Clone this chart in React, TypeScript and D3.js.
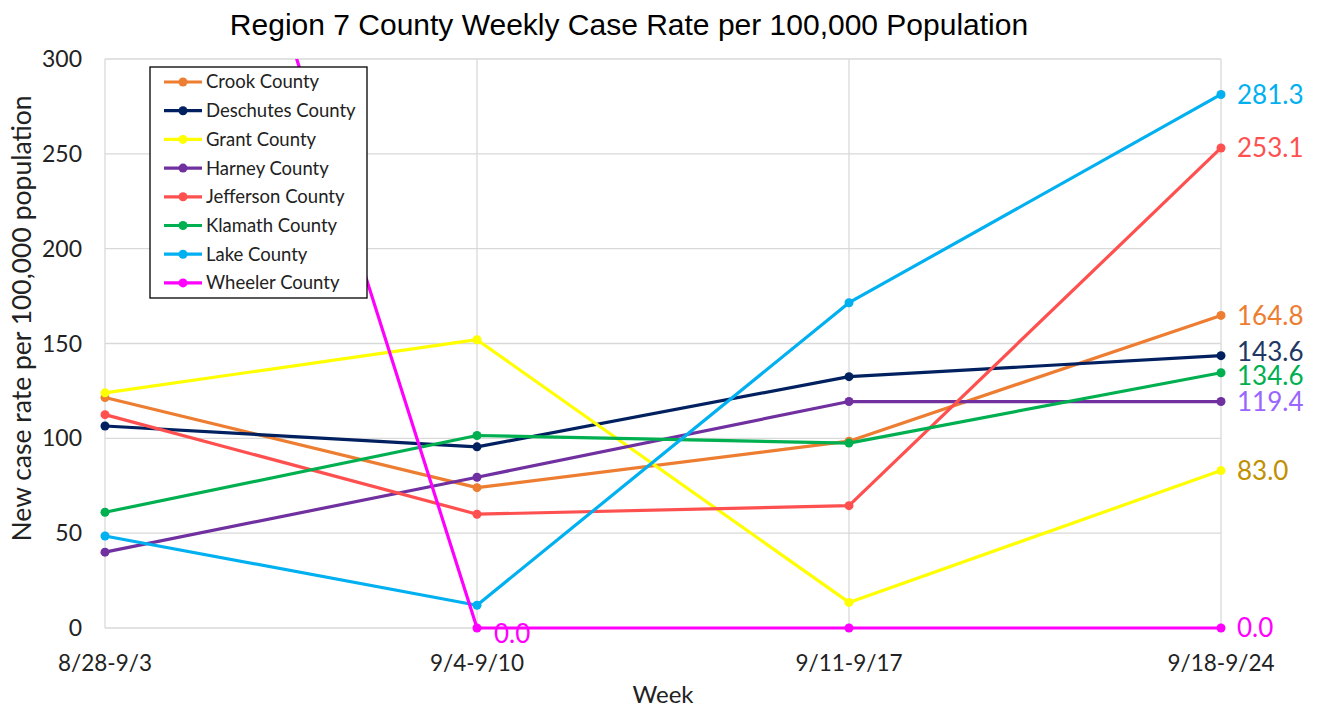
import React, { useEffect } from 'react';
import * as d3 from 'd3';

const weeks = ['8/28-9/3', '9/4-9/10', '9/11-9/17', '9/18-9/24'];
const yTicks = [0, 50, 100, 150, 200, 250, 300];

const crook = [121.5, 74, 98.5, 164.8];
const deschutes = [106.5, 95.5, 132.5, 143.6];
const grant = [124, 152, 13.5, 83.0];
const harney = [40, 79.5, 119.4, 119.4];
const jefferson = [112.5, 60, 64.5, 253.1];
const klamath = [61, 101.5, 97.5, 134.6];
const lake = [48.5, 12, 171.5, 281.3];
const wheeler = [619, 0, 0, 0];

const seriesNames = [
  'Crook County', 'Deschutes County', 'Grant County', 'Harney County',
  'Jefferson County', 'Klamath County', 'Lake County', 'Wheeler County',
];
const seriesValues = [crook, deschutes, grant, harney, jefferson, klamath, lake, wheeler];
const lineColors = ['#ED7D31', '#002060', '#FFFF00', '#7030A0', '#FF5050', '#00B050', '#00B0F0', '#FF00FF'];
const labelColors = ['#ED7D31', '#1F3864', '#BF9000', '#9966FF', '#FF5050', '#00B050', '#00B0F0', '#FF00FF'];

const W = 1318;
const H = 708;
const margin = { top: 59, right: 97, bottom: 80, left: 105 };
const font = 'Lato, "Noto Sans", sans-serif';

const App = () => {
  useEffect(() => {
    document.body.style.margin = '0';
  }, []);

  const x = d3.scalePoint<string>()
    .domain(weeks)
    .range([margin.left, W - margin.right]);
  const y = d3.scaleLinear()
    .domain([0, 300])
    .range([H - margin.bottom, margin.top]);

  const line = d3.line<number>()
    .x((_, i) => x(weeks[i]) as number)
    .y(d => y(d));

  const series = seriesNames.map((name, i) => ({
    name, values: seriesValues[i], color: lineColors[i], labelColor: labelColors[i],
  }));

  // end labels, pushed apart evenly when they collide
  const last = weeks.length - 1;
  const gap = 24;
  const endLabels = series
    .map(s => ({ text: s.values[last].toFixed(1), y: y(s.values[last]), color: s.labelColor }))
    .sort((a, b) => a.y - b.y);
  for (let k = 0; k < 30; k++) {
    for (let i = 1; i < endLabels.length; i++) {
      const d = endLabels[i].y - endLabels[i - 1].y;
      if (d < gap) {
        endLabels[i - 1].y -= (gap - d) / 2;
        endLabels[i].y += (gap - d) / 2;
      }
    }
  }

  const x0 = margin.left;
  const x1 = W - margin.right;
  const y0 = H - margin.bottom;
  const y1 = margin.top;

  return (
    <svg width={W} height={H} style={{ display: 'block', background: '#fff' }}>
      <defs>
        <clipPath id="plot">
          <rect x={x0 - 10} y={y1} width={x1 - x0 + 20} height={y0 - y1 + 10} />
        </clipPath>
      </defs>

      <text x={629} y={35} textAnchor="middle" fontFamily='"Liberation Sans", Arial, sans-serif' fontSize={30} fill="#000">
        Region 7 County Weekly Case Rate per 100,000 Population
      </text>

      {/* gridlines */}
      {yTicks.map(t => (
        <line key={t} x1={x0} x2={x1} y1={y(t)} y2={y(t)} stroke="#d9d9d9" strokeWidth={1.3} />
      ))}
      {weeks.map(w => (
        <line key={w} x1={x(w)} x2={x(w)} y1={y1} y2={y0} stroke="#d9d9d9" strokeWidth={1.3} />
      ))}

      {/* tick labels */}
      {yTicks.map(t => (
        <text key={t} x={82} y={y(t)} dy="0.35em" textAnchor="end" fontFamily={font} fontSize={23} fill="#222">
          {t}
        </text>
      ))}
      {weeks.map(w => (
        <text key={w} x={x(w)} y={663} dy="0.35em" textAnchor="middle" fontFamily={font} fontSize={22.5} fill="#222">
          {w}
        </text>
      ))}
      <text x={663} y={695} dy="0.35em" textAnchor="middle" fontFamily={font} fontSize={24} fill="#222">Week</text>
      <text transform={`translate(22, ${(y0 + y1) / 2 - 25}) rotate(-90)`} textAnchor="middle" dy="0.35em" fontFamily={font} fontSize={26.5} fill="#222">
        New case rate per 100,000 population
      </text>

      {/* lines */}
      <g clipPath="url(#plot)">
        {series.map(s => (
          <g key={s.name}>
            <path d={line(s.values) || ''} fill="none" stroke={s.color} strokeWidth={3.2} strokeLinejoin="round" />
            {s.values.map((v, i) => (
              v <= 300 ? <circle key={i} cx={x(weeks[i])} cy={y(v)} r={4.5} fill={s.color} /> : null
            ))}
          </g>
        ))}
      </g>

      {/* data labels */}
      {endLabels.map(l => (
        <text key={l.text + l.color} x={(x(weeks[last]) as number) + 16} y={l.y} dy="0.35em" fontFamily={font} fontSize={26} fill={l.color}>
          {l.text}
        </text>
      ))}
      <text x={(x(weeks[1]) as number) + 17} y={y(wheeler[1]) + 6} dy="0.35em" fontFamily={font} fontSize={26} fill={labelColors[7]}>
        {wheeler[1].toFixed(1)}
      </text>

      {/* legend */}
      <g transform="translate(150, 67)">
        <rect x={0} y={0} width={217} height={231} fill="#fff" stroke="#000" strokeWidth={1.3} />
        {series.map((s, i) => (
          <g key={s.name} transform={`translate(0, ${15 + i * 28.7})`}>
            <line x1={14} x2={52} y1={0} y2={0} stroke={s.color} strokeWidth={3.2} />
            <circle cx={33} cy={0} r={4.5} fill={s.color} />
            <text x={56} y={0} dy="0.35em" fontFamily={font} fontSize={18.5} fill="#222">{s.name}</text>
          </g>
        ))}
      </g>
    </svg>
  );
};

export default App;
